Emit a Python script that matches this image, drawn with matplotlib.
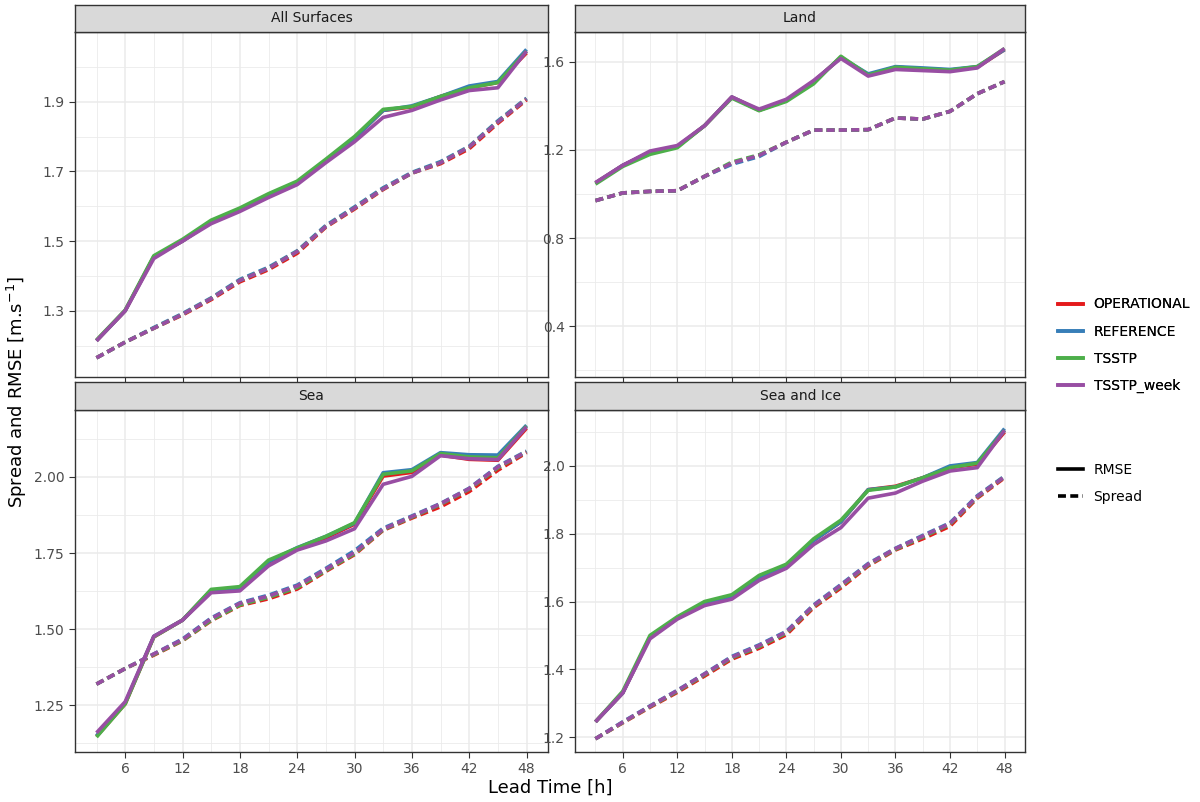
import matplotlib.pyplot as plt
from matplotlib.lines import Line2D

lead = [3, 6, 9, 12, 15, 18, 21, 24, 27, 30, 33, 36, 39, 42, 45, 48]
models = ['OPERATIONAL', 'REFERENCE', 'TSSTP', 'TSSTP_week']
colors = ['#E41A1C', '#377EB8', '#4DAF4A', '#984EA3']
panels = ['All Surfaces', 'Land', 'Sea', 'Sea and Ice']

# RMSE per panel, per model
rmse_all = {
    'OPERATIONAL': [1.214, 1.30, 1.455, 1.50, 1.555, 1.59, 1.632, 1.668, 1.73, 1.795, 1.875, 1.885, 1.915, 1.94, 1.955, 2.04],
    'REFERENCE':   [1.214, 1.30, 1.455, 1.50, 1.555, 1.59, 1.632, 1.668, 1.73, 1.795, 1.875, 1.888, 1.915, 1.945, 1.958, 2.05],
    'TSSTP':       [1.216, 1.302, 1.458, 1.505, 1.56, 1.595, 1.636, 1.672, 1.735, 1.80, 1.878, 1.886, 1.915, 1.94, 1.955, 2.045],
    'TSSTP_week':  [1.214, 1.30, 1.45, 1.50, 1.55, 1.585, 1.625, 1.662, 1.725, 1.785, 1.855, 1.875, 1.905, 1.932, 1.94, 2.045],
}
spread_all = {
    'OPERATIONAL': [1.165, 1.21, 1.25, 1.288, 1.332, 1.383, 1.418, 1.465, 1.54, 1.592, 1.648, 1.695, 1.722, 1.765, 1.838, 1.905],
    'REFERENCE':   [1.165, 1.21, 1.252, 1.292, 1.337, 1.39, 1.425, 1.472, 1.545, 1.598, 1.653, 1.697, 1.728, 1.772, 1.845, 1.91],
    'TSSTP':       [1.165, 1.21, 1.25, 1.29, 1.335, 1.387, 1.422, 1.47, 1.542, 1.595, 1.65, 1.695, 1.725, 1.77, 1.842, 1.908],
    'TSSTP_week':  [1.165, 1.21, 1.25, 1.29, 1.335, 1.387, 1.422, 1.47, 1.542, 1.595, 1.65, 1.695, 1.725, 1.77, 1.842, 1.908],
}
rmse_land = {
    'OPERATIONAL': [1.05, 1.13, 1.19, 1.215, 1.31, 1.44, 1.38, 1.425, 1.51, 1.62, 1.54, 1.575, 1.568, 1.562, 1.575, 1.655],
    'REFERENCE':   [1.05, 1.13, 1.19, 1.215, 1.31, 1.44, 1.38, 1.425, 1.51, 1.62, 1.545, 1.578, 1.572, 1.565, 1.578, 1.655],
    'TSSTP':       [1.045, 1.125, 1.18, 1.21, 1.31, 1.435, 1.378, 1.42, 1.50, 1.625, 1.54, 1.575, 1.568, 1.562, 1.578, 1.66],
    'TSSTP_week':  [1.052, 1.13, 1.195, 1.22, 1.31, 1.44, 1.385, 1.43, 1.515, 1.615, 1.535, 1.565, 1.56, 1.555, 1.572, 1.66],
}
spread_land = {
    'OPERATIONAL': [0.97, 1.005, 1.012, 1.015, 1.08, 1.14, 1.175, 1.235, 1.29, 1.29, 1.292, 1.345, 1.34, 1.375, 1.455, 1.51],
    'REFERENCE':   [0.97, 1.005, 1.012, 1.015, 1.08, 1.135, 1.17, 1.235, 1.29, 1.29, 1.292, 1.345, 1.34, 1.375, 1.455, 1.51],
    'TSSTP':       [0.97, 1.005, 1.012, 1.015, 1.08, 1.145, 1.178, 1.235, 1.29, 1.29, 1.292, 1.345, 1.34, 1.375, 1.455, 1.51],
    'TSSTP_week':  [0.97, 1.005, 1.012, 1.015, 1.08, 1.14, 1.175, 1.235, 1.29, 1.29, 1.292, 1.345, 1.34, 1.375, 1.455, 1.51],
}
rmse_sea = {
    'OPERATIONAL': [1.148, 1.255, 1.475, 1.53, 1.628, 1.636, 1.72, 1.765, 1.80, 1.845, 2.003, 2.015, 2.072, 2.058, 2.055, 2.16],
    'REFERENCE':   [1.15, 1.258, 1.477, 1.53, 1.628, 1.636, 1.722, 1.768, 1.805, 1.848, 2.014, 2.024, 2.08, 2.073, 2.072, 2.17],
    'TSSTP':       [1.146, 1.255, 1.475, 1.53, 1.631, 1.64, 1.727, 1.767, 1.805, 1.85, 2.009, 2.02, 2.077, 2.066, 2.063, 2.167],
    'TSSTP_week':  [1.16, 1.262, 1.477, 1.53, 1.62, 1.626, 1.708, 1.76, 1.79, 1.83, 1.976, 2.002, 2.07, 2.06, 2.057, 2.165],
}
spread_sea = {
    'OPERATIONAL': [1.32, 1.371, 1.415, 1.462, 1.528, 1.578, 1.600, 1.632, 1.69, 1.745, 1.825, 1.865, 1.902, 1.952, 2.022, 2.08],
    'REFERENCE':   [1.32, 1.371, 1.419, 1.468, 1.537, 1.587, 1.612, 1.645, 1.70, 1.758, 1.832, 1.872, 1.913, 1.963, 2.035, 2.085],
    'TSSTP':       [1.32, 1.371, 1.417, 1.463, 1.53, 1.58, 1.605, 1.637, 1.693, 1.748, 1.827, 1.868, 1.91, 1.96, 2.03, 2.083],
    'TSSTP_week':  [1.32, 1.371, 1.419, 1.466, 1.535, 1.585, 1.609, 1.642, 1.697, 1.752, 1.829, 1.87, 1.912, 1.962, 2.033, 2.083],
}
rmse_ice = {
    'OPERATIONAL': [1.245, 1.33, 1.495, 1.55, 1.595, 1.615, 1.672, 1.705, 1.78, 1.835, 1.93, 1.94, 1.965, 1.995, 2.005, 2.10],
    'REFERENCE':   [1.245, 1.33, 1.495, 1.55, 1.595, 1.615, 1.672, 1.705, 1.78, 1.835, 1.93, 1.938, 1.965, 2.0, 2.01, 2.11],
    'TSSTP':       [1.245, 1.335, 1.50, 1.555, 1.60, 1.62, 1.677, 1.71, 1.785, 1.84, 1.928, 1.938, 1.965, 1.995, 2.008, 2.105],
    'TSSTP_week':  [1.245, 1.33, 1.49, 1.548, 1.588, 1.607, 1.662, 1.698, 1.768, 1.818, 1.905, 1.92, 1.955, 1.985, 1.995, 2.105],
}
spread_ice = {
    'OPERATIONAL': [1.195, 1.242, 1.288, 1.332, 1.38, 1.43, 1.462, 1.502, 1.582, 1.64, 1.705, 1.752, 1.785, 1.822, 1.905, 1.965],
    'REFERENCE':   [1.195, 1.245, 1.292, 1.338, 1.387, 1.438, 1.472, 1.512, 1.59, 1.65, 1.712, 1.757, 1.795, 1.832, 1.912, 1.97],
    'TSSTP':       [1.195, 1.243, 1.29, 1.335, 1.384, 1.434, 1.467, 1.507, 1.586, 1.645, 1.708, 1.754, 1.79, 1.828, 1.908, 1.968],
    'TSSTP_week':  [1.195, 1.244, 1.291, 1.337, 1.386, 1.436, 1.47, 1.51, 1.588, 1.648, 1.71, 1.756, 1.793, 1.83, 1.91, 1.968],
}

rmse = [rmse_all, rmse_land, rmse_sea, rmse_ice]
spread = [spread_all, spread_land, spread_sea, spread_ice]
yticks = [[1.3, 1.5, 1.7, 1.9], [0.4, 0.8, 1.2, 1.6], [1.25, 1.50, 1.75, 2.00], [1.2, 1.4, 1.6, 1.8, 2.0]]
ylims = [(1.11, 2.10), (0.17, 1.735), (1.097, 2.22), (1.156, 2.165)]
yfmt = ['%.1f', '%.1f', '%.2f', '%.1f']

W, H = 1200, 802
fig = plt.figure(figsize=(12, 8.02), dpi=100)

# panel boxes in pixels: left, right, strip top, panel top, panel bottom
cols = [(75, 548), (575, 1025)]
rows = [(5, 32, 377), (382, 410, 752)]

grid_c = '#EBEBEB'
for i, name in enumerate(panels):
    l, r = cols[i % 2]
    st, pt, pb = rows[i // 2]
    ax = fig.add_axes([l / W, 1 - pb / H, (r - l) / W, (pb - pt) / H])
    sax = fig.add_axes([l / W, 1 - pt / H, (r - l) / W, (pt - st) / H])
    sax.set_facecolor('#D9D9D9')
    sax.set_xticks([]); sax.set_yticks([])
    for s in sax.spines.values():
        s.set_color('#333333'); s.set_linewidth(1.0)
    sax.text(0.5, 0.5, name, ha='center', va='center', fontsize=10, color='#1A1A1A', transform=sax.transAxes)

    # grid: major + minor like ggplot
    yt = yticks[i]
    step = yt[1] - yt[0]
    lo, hi = ylims[i]
    k = yt[0] - step * 3
    while k < hi + step:
        ax.axhline(k + step / 2, color=grid_c, lw=0.6, zorder=0)
        k += step
    for t in yt:
        ax.axhline(t, color=grid_c, lw=1.1, zorder=0)
    for x in range(3, 49, 6):
        ax.axvline(x, color=grid_c, lw=0.6, zorder=0)
    for x in range(6, 49, 6):
        ax.axvline(x, color=grid_c, lw=1.1, zorder=0)

    for m, c in zip(models, colors):
        ax.plot(lead, rmse[i][m], color=c, lw=2.6, solid_capstyle='butt', zorder=3)
        ax.plot(lead, spread[i][m], color=c, lw=2.6, ls=(0, (2.2, 1.2)), zorder=3)

    ax.set_xlim(0.75, 50.25)
    ax.set_ylim(lo, hi)
    ax.set_yticks(yt)
    ax.set_yticklabels([yfmt[i] % t for t in yt])
    ax.set_xticks(range(6, 49, 6))
    if i < 2:
        ax.set_xticklabels([])
        ax.tick_params(axis='x', length=0)
    ax.tick_params(labelsize=10, labelcolor='#4D4D4D', color='#333333', length=4)
    for s in ax.spines.values():
        s.set_color('#333333'); s.set_linewidth(1.0)

fig.text(550 / W, 1 - 788 / H, 'Lead Time [h]', ha='center', va='center', fontsize=13)
fig.text(17 / W, 1 - 392 / H, 'Spread and RMSE [m.s$^{-1}$]', ha='center', va='center', rotation=90, fontsize=13)

# legends
h1 = [Line2D([], [], color=c, lw=2.6) for c in colors]
leg1 = fig.legend(h1, models, loc='upper left', bbox_to_anchor=(1045 / W, 1 - 285 / H), frameon=False,
                  fontsize=10, handlelength=1.8, labelspacing=0.95)
fig.add_artist(leg1)
h2 = [Line2D([], [], color='black', lw=2.6), Line2D([], [], color='black', lw=2.6, ls=(0, (2.2, 1.2)))]
fig.legend(h2, ['RMSE', 'Spread'], loc='upper left', bbox_to_anchor=(1045 / W, 1 - 450 / H), frameon=False,
           fontsize=10, handlelength=1.8, labelspacing=0.95)

fig.savefig('out.png', dpi=100)
